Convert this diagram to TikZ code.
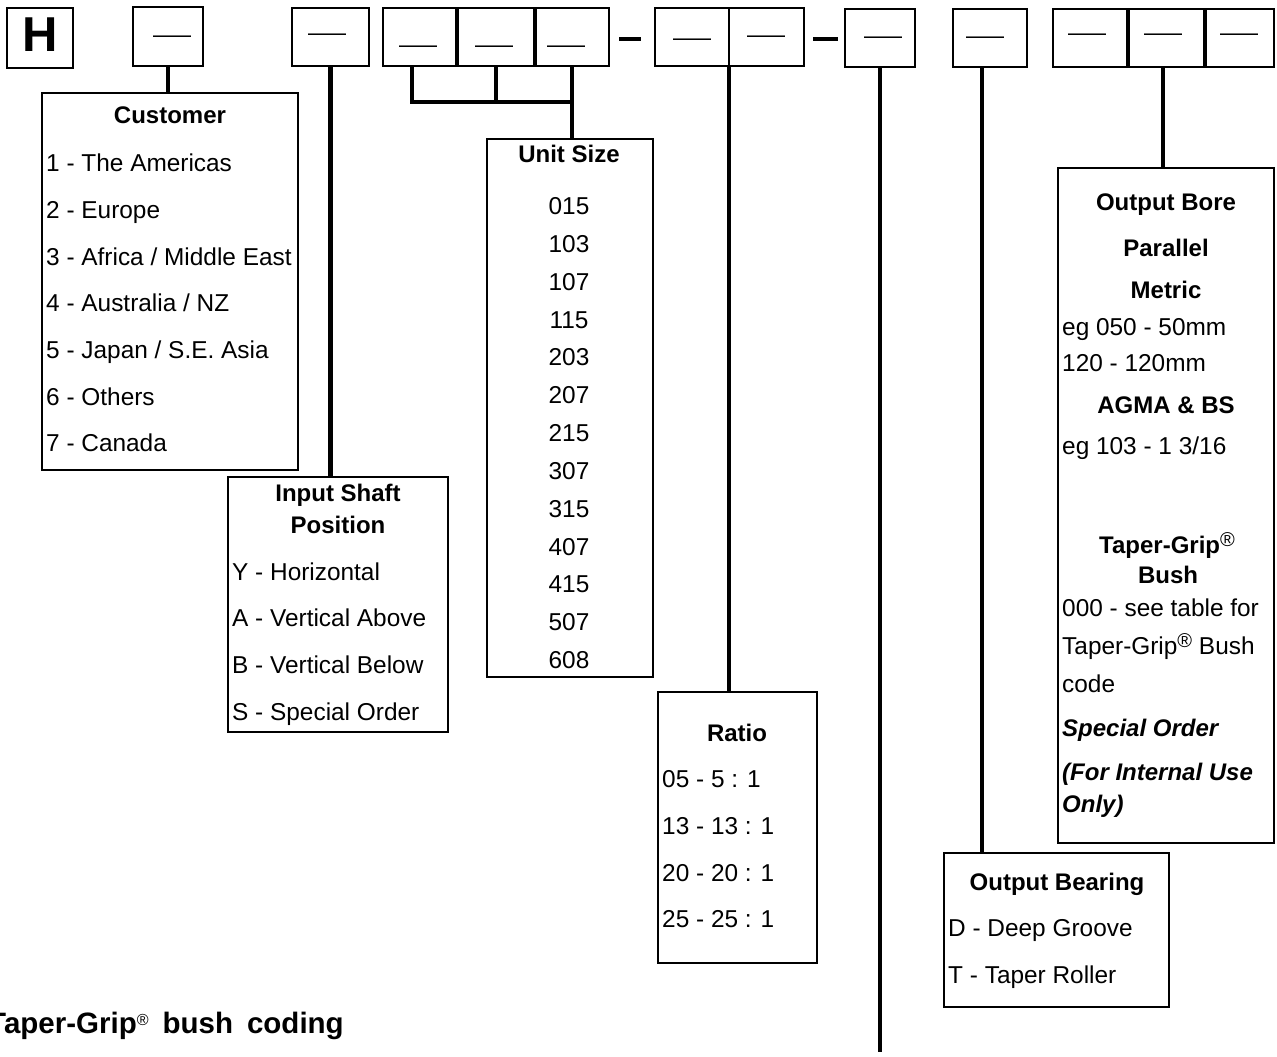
\documentclass[tikz,border=0pt]{standalone}
\usepackage{fontspec}
\setmainfont{Liberation Sans}
\newcommand{\regmark}{\raisebox{7pt}{\fontsize{20}{20}\selectfont\mdseries\upshape ®}}
\begin{document}
\begin{tikzpicture}[x=1pt,y=-1pt,
  topbox/.style={draw, line width=2.6pt, inner sep=0pt, outer sep=0pt},
  tbox/.style={draw, line width=2.2pt, inner sep=0pt, outer sep=0pt},
  conn/.style={line width=4.5pt},
  divider/.style={line width=4pt},
  sepdash/.style={line width=3.5pt},
  blank/.style={inner sep=0pt, anchor=north, font=\fontsize{38}{40}\selectfont},
  item/.style={inner sep=0pt, anchor=west, text height=17.2pt, text depth=0pt, font=\fontsize{24.4}{28}\selectfont},
  head/.style={inner sep=0pt, text height=17.2pt, text depth=0pt, font=\fontsize{24}{28}\selectfont\bfseries},
  num/.style={inner sep=0pt, text height=17.2pt, text depth=0pt, font=\fontsize{24.4}{28}\selectfont},
  emph/.style={inner sep=0pt, anchor=west, text height=17.2pt, text depth=0pt, font=\fontsize{24}{28}\selectfont\bfseries\itshape},
]
\useasboundingbox (0,0) rectangle (1277,1057);

% ---------- top code boxes ----------
\node[topbox, minimum width=66pt, minimum height=60pt, text height=35pt, text depth=7pt,
      font=\fontsize{49}{50}\selectfont\bfseries] (bH) at (40,38) {H};
\node[topbox, minimum width=70pt, minimum height=59pt] (b2) at (168,36.5) {};
\node[topbox, minimum width=77pt, minimum height=58pt] (b3) at (330.5,37) {};
\node[topbox, minimum width=74pt, minimum height=58pt] (b4) at (420,37) {};
\node[topbox, minimum width=78pt, minimum height=58pt] (b5) at (496,37) {};
\node[topbox, minimum width=74pt, minimum height=58pt] (b6) at (572,37) {};
\node[topbox, minimum width=74pt, minimum height=58pt] (b7) at (692,37) {};
\node[topbox, minimum width=75pt, minimum height=58pt] (b8) at (766.5,37) {};
\node[topbox, minimum width=70pt, minimum height=58pt] (b9) at (880,38) {};
\node[topbox, minimum width=74pt, minimum height=58pt] (b10) at (990,38) {};
\node[topbox, minimum width=75pt, minimum height=58pt] (b11) at (1090.5,38) {};
\node[topbox, minimum width=77pt, minimum height=58pt] (b12) at (1166.5,38) {};
\node[topbox, minimum width=69pt, minimum height=58pt] (b13) at (1239.5,38) {};

% thicker dividers between joined boxes
\draw[divider] (b4.north east) -- (b4.south east);
\draw[divider] (b5.north east) -- (b5.south east);
\draw[divider] (b11.north east) -- (b11.south east);
\draw[divider] (b12.north east) -- (b12.south east);

% blanks in the boxes
\node[blank] (d2) at (172,35.8) {\scalebox{1}[0.6]{—}};
\node[blank] (d3) at (327,33.8) {\scalebox{1}[0.6]{—}};
\node[blank] (d4) at (418,45.8) {\scalebox{1}[0.6]{—}};
\node[blank] (d5) at (494,45.8) {\scalebox{1}[0.6]{—}};
\node[blank] (d6) at (566,45.8) {\scalebox{1}[0.6]{—}};
\node[blank] (d7) at (692,38.8) {\scalebox{1}[0.6]{—}};
\node[blank] (d8) at (766,35.8) {\scalebox{1}[0.6]{—}};
\node[blank] (d9) at (883,36.8) {\scalebox{1}[0.6]{—}};
\node[blank] (d10) at (985,36.8) {\scalebox{1}[0.6]{—}};
\node[blank] (d11) at (1087,33.8) {\scalebox{1}[0.6]{—}};
\node[blank] (d12) at (1163,33.8) {\scalebox{1}[0.6]{—}};
\node[blank] (d13) at (1239,33.8) {\scalebox{1}[0.6]{—}};

% separator dashes
\draw[sepdash] (619,39) -- (641,39);
\draw[sepdash] (813,39) -- (838,39);

% ---------- Customer ----------
\node[tbox, minimum width=256pt, minimum height=377pt] (cust) at (170,281.5) {};
\node[head] (custT) at (170,115) {Customer};
\node[item] (c1) at (46,163) {1 - The Americas};
\node[item] (c2) at (46,210) {2 - Europe};
\node[item] (c3) at (46,257) {3 - Africa / Middle East};
\node[item] (c4) at (46,303) {4 - Australia / NZ};
\node[item] (c5) at (46,350) {5 - Japan / S.E. Asia};
\node[item] (c6) at (46,397) {6 - Others};
\node[item] (c7) at (46,443) {7 - Canada};

% ---------- Input Shaft Position ----------
\node[tbox, minimum width=220pt, minimum height=255pt] (inp) at (338,604.5) {};
\node[head] (inpT1) at (338,493) {Input Shaft};
\node[head] (inpT2) at (338,525) {Position};
\node[item] (i1) at (232,572) {Y - Horizontal};
\node[item] (i2) at (232,618) {A - Vertical Above};
\node[item] (i3) at (232,665) {B - Vertical Below};
\node[item] (i4) at (232,712) {S - Special Order};

% ---------- Unit Size ----------
\node[tbox, minimum width=166pt, minimum height=538pt] (unit) at (570,408) {};
\node[head] (unitT) at (569,154) {Unit Size};
\foreach \v [count=\k from 0] in {015,103,107,115,203,207,215,307,315,407,415,507,608}
  \node[num] (u\k) at (569,{206+37.83*\k}) {\v};

% ---------- Ratio ----------
\node[tbox, minimum width=159pt, minimum height=271pt] (ratio) at (737.5,827.5) {};
\node[head] (ratioT) at (737,733) {Ratio};
\node[item] (r1) at (662,779) {05 - 5 : 1};
\node[item] (r2) at (662,826) {13 - 13 : 1};
\node[item] (r3) at (662,873) {20 - 20 : 1};
\node[item] (r4) at (662,919) {25 - 25 : 1};

% ---------- Output Bearing ----------
\node[tbox, minimum width=225pt, minimum height=154pt] (bear) at (1056.5,930) {};
\node[head] (bearT) at (1057,882) {Output Bearing};
\node[item] (o1) at (948,928) {D - Deep Groove};
\node[item] (o2) at (948,975) {T - Taper Roller};

% ---------- Output Bore ----------
\node[tbox, minimum width=216pt, minimum height=675pt] (bore) at (1166,505.5) {};
\node[head] (boreT) at (1166,202) {Output Bore};
\node[head] (bpar) at (1166,248) {Parallel};
\node[head] (bmet) at (1166,290) {Metric};
\node[item] (bm1) at (1062,327) {eg 050 - 50mm};
\node[item] (bm2) at (1062,363) {120 - 120mm};
\node[head] (bagm) at (1166,405) {AGMA \& BS};
\node[item] (ba1) at (1062,446) {eg 103 - 1 3/16};
\node[head] (btg) at (1167,545) {Taper-Grip\regmark};
\node[head] (bbush) at (1168,575) {Bush};
\node[item] (bt1) at (1062,608) {000 - see table for};
\node[item] (bt2) at (1062,646) {Taper-Grip\regmark{} Bush};
\node[item] (bt3) at (1062,684) {code};
\node[emph] (bs1) at (1062,728) {Special Order};
\node[emph] (bs2) at (1062,772) {(For Internal Use};
\node[emph] (bs3) at (1062,804) {Only)};

% ---------- caption ----------
\node[inner sep=0pt, anchor=base west, font=\fontsize{29.5}{32}\selectfont\bfseries] (cap) at (-12,1033)
  {Taper-Grip\raisebox{8pt}{\fontsize{16}{16}\selectfont\mdseries ®}\hspace{14pt}bush\hspace{14pt}coding};

% ---------- connectors ----------
\coordinate (bj) at (572,102);
\coordinate (vend) at (880,1052);
\draw[conn] (b2.south) -- (b2.south |- cust.north);
\draw[conn] (b3.south) -- (b3.south |- inp.north);
\draw[conn] ([xshift=-8pt]b4.south) |- (bj);
\draw[conn] (b5.south) -- (b5.south |- bj);
\draw[conn] (b6.south) -- (b6.south |- unit.north);
\draw[conn] (b7.south east) -- (b7.south east |- ratio.north);
\draw[conn] (b9.south) -- (b9.south |- vend);
\draw[conn] ([xshift=-8pt]b10.south) -- ([xshift=-8pt]b10.south |- bear.north);
\draw[conn] ([xshift=-3.5pt]b12.south) -- ([xshift=-3.5pt]b12.south |- bore.north);
\end{tikzpicture}
\end{document}
